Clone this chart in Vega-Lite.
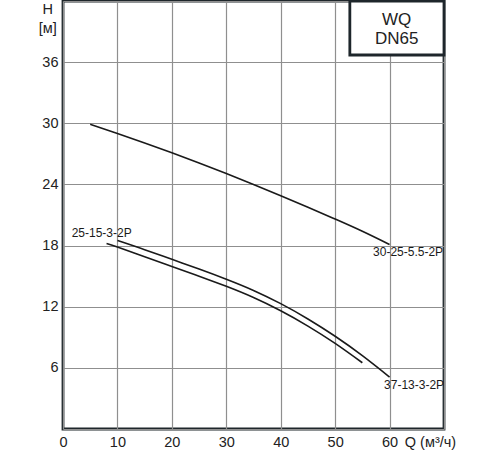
{
  "$schema": "https://vega.github.io/schema/vega-lite/v6.json",
  "width": 381,
  "height": 428,
  "autosize": {"type": "none"},
  "padding": {"left": 63, "top": 1, "right": 56, "bottom": 21},
  "background": "white",
  "config": {
    "view": {"stroke": "#1e262b", "strokeWidth": 2.8},
    "font": "Liberation Sans",
    "axis": {
      "domain": false,
      "ticks": false,
      "gridColor": "#8f8f8f",
      "gridWidth": 1.2,
      "gridOpacity": 1,
      "labelFont": "Liberation Sans",
      "labelFontSize": 14.5,
      "labelColor": "#222222",
      "labelOverlap": false,
      "labelFlush": false,
      "title": null
    }
  },
  "datasets": {
    "curves": [
      {"series": "30-25-5.5-2P", "q": 5, "h": 29.9},
      {"series": "30-25-5.5-2P", "q": 10, "h": 29.0},
      {"series": "30-25-5.5-2P", "q": 15, "h": 28.07},
      {"series": "30-25-5.5-2P", "q": 20, "h": 27.1},
      {"series": "30-25-5.5-2P", "q": 25, "h": 26.1},
      {"series": "30-25-5.5-2P", "q": 30, "h": 25.07},
      {"series": "30-25-5.5-2P", "q": 35, "h": 24.0},
      {"series": "30-25-5.5-2P", "q": 40, "h": 22.9},
      {"series": "30-25-5.5-2P", "q": 45, "h": 21.77},
      {"series": "30-25-5.5-2P", "q": 50, "h": 20.6},
      {"series": "30-25-5.5-2P", "q": 55, "h": 19.4},
      {"series": "30-25-5.5-2P", "q": 60, "h": 18.1},
      {"series": "37-13-3-2P", "q": 10, "h": 18.5},
      {"series": "37-13-3-2P", "q": 15, "h": 17.6},
      {"series": "37-13-3-2P", "q": 20, "h": 16.65},
      {"series": "37-13-3-2P", "q": 25, "h": 15.7},
      {"series": "37-13-3-2P", "q": 30, "h": 14.7},
      {"series": "37-13-3-2P", "q": 35, "h": 13.6},
      {"series": "37-13-3-2P", "q": 40, "h": 12.3},
      {"series": "37-13-3-2P", "q": 45, "h": 10.8},
      {"series": "37-13-3-2P", "q": 50, "h": 9.1},
      {"series": "37-13-3-2P", "q": 55, "h": 7.2},
      {"series": "37-13-3-2P", "q": 60, "h": 5.1},
      {"series": "25-15-3-2P", "q": 8, "h": 18.2},
      {"series": "25-15-3-2P", "q": 10, "h": 17.85},
      {"series": "25-15-3-2P", "q": 15, "h": 16.9},
      {"series": "25-15-3-2P", "q": 20, "h": 15.95},
      {"series": "25-15-3-2P", "q": 25, "h": 15.0},
      {"series": "25-15-3-2P", "q": 30, "h": 14.0},
      {"series": "25-15-3-2P", "q": 35, "h": 12.9},
      {"series": "25-15-3-2P", "q": 40, "h": 11.6},
      {"series": "25-15-3-2P", "q": 45, "h": 10.1},
      {"series": "25-15-3-2P", "q": 50, "h": 8.4},
      {"series": "25-15-3-2P", "q": 55, "h": 6.5}
    ],
    "curveLabels": [
      {"label": "25-15-3-2P", "q": 7.1, "h": 19.2},
      {"label": "30-25-5.5-2P", "q": 63.4, "h": 17.4},
      {"label": "37-13-3-2P", "q": 64.5, "h": 4.3}
    ],
    "box": [
      {"q1": 52.7, "q2": 70, "h1": 36.7, "h2": 42}
    ],
    "boxText": [
      {"label": "WQ", "q": 61.3, "h": 40.1},
      {"label": "DN65", "q": 61.3, "h": 38.3}
    ],
    "axisTitles": [
      {"label": "H", "q": -2.8, "h": 41.1},
      {"label": "[м]", "q": -2.8, "h": 39.3}
    ],
    "xTitle": [
      {"label": "Q (м³/ч)", "q": 62.8, "h": -1.4}
    ]
  },
  "layer": [
    {
      "data": {"name": "curves"},
      "mark": {"type": "line", "color": "#1a1a1a", "strokeWidth": 1.6, "interpolate": "natural"},
      "encoding": {
        "x": {
          "field": "q", "type": "quantitative",
          "scale": {"domain": [0, 70], "nice": false, "zero": false},
          "axis": {
            "values": [0, 5, 10, 15, 20, 25, 30, 35, 40, 45, 50, 55, 60, 65, 70],
            "labelExpr": "(datum.value % 10 == 0 && datum.value <= 60) ? datum.label : ''",
            "labelPadding": 6
          }
        },
        "y": {
          "field": "h", "type": "quantitative",
          "scale": {"domain": [0, 42], "nice": false, "zero": false},
          "axis": {
            "values": [0, 3, 6, 9, 12, 15, 18, 21, 24, 27, 30, 33, 36, 39, 42],
            "labelExpr": "(datum.value % 6 == 0 && datum.value > 0 && datum.value < 42) ? datum.label : ''",
            "labelPadding": 5
          }
        },
        "detail": {"field": "series"}
      }
    },
    {
      "data": {"name": "box"},
      "mark": {"type": "rect", "fill": "white", "stroke": "#1e262b", "strokeWidth": 2.8},
      "encoding": {
        "x": {"field": "q1", "type": "quantitative"},
        "x2": {"field": "q2"},
        "y": {"field": "h1", "type": "quantitative"},
        "y2": {"field": "h2"}
      }
    },
    {
      "data": {"name": "boxText"},
      "mark": {"type": "text", "fontSize": 17, "color": "#222222", "align": "center", "baseline": "middle"},
      "encoding": {
        "x": {"field": "q", "type": "quantitative"},
        "y": {"field": "h", "type": "quantitative"},
        "text": {"field": "label"}
      }
    },
    {
      "data": {"name": "curveLabels"},
      "mark": {"type": "text", "fontSize": 12, "color": "#1a1a1a", "align": "center", "baseline": "middle"},
      "encoding": {
        "x": {"field": "q", "type": "quantitative"},
        "y": {"field": "h", "type": "quantitative"},
        "text": {"field": "label"}
      }
    },
    {
      "data": {"name": "axisTitles"},
      "mark": {"type": "text", "fontSize": 14.5, "color": "#222222", "align": "center", "baseline": "middle"},
      "encoding": {
        "x": {"field": "q", "type": "quantitative"},
        "y": {"field": "h", "type": "quantitative"},
        "text": {"field": "label"}
      }
    },
    {
      "data": {"name": "xTitle"},
      "mark": {"type": "text", "fontSize": 14.5, "color": "#222222", "align": "left", "baseline": "middle"},
      "encoding": {
        "x": {"field": "q", "type": "quantitative"},
        "y": {"field": "h", "type": "quantitative"},
        "text": {"field": "label"}
      }
    }
  ]
}
